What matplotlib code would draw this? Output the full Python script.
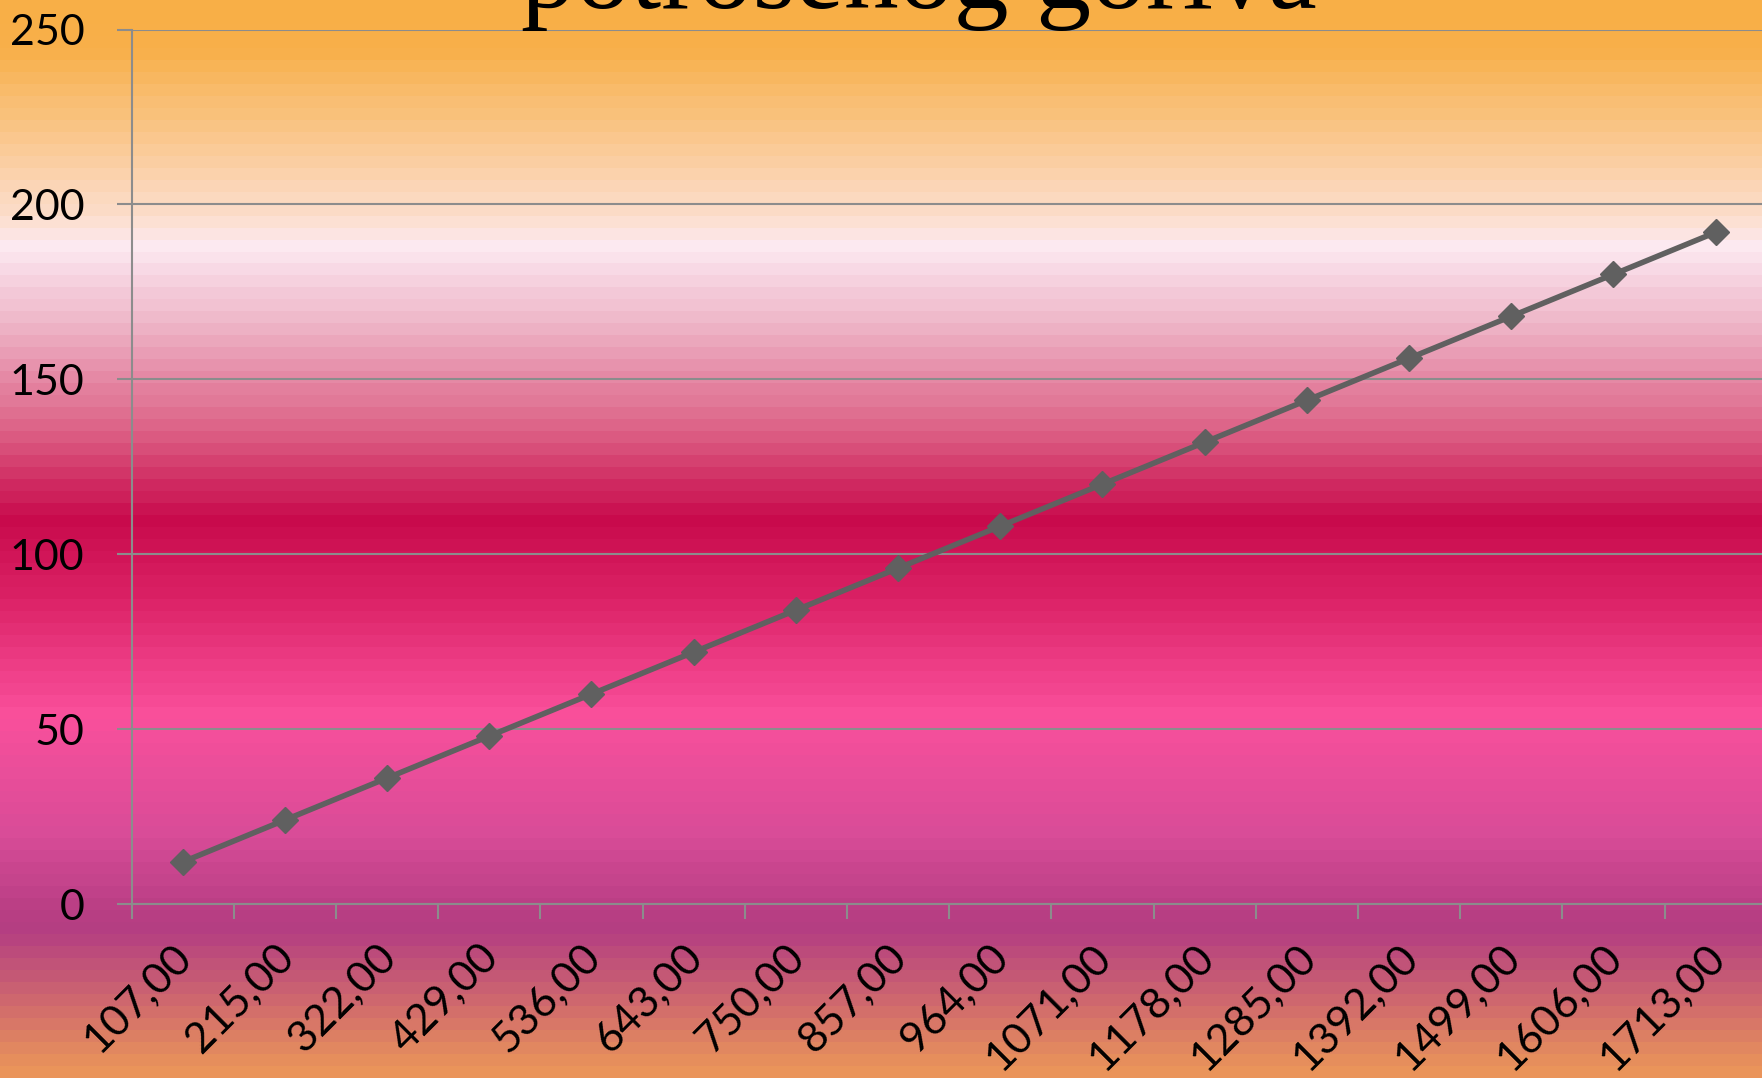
import numpy as np
import matplotlib
matplotlib.use("Agg")
import matplotlib.pyplot as plt
import matplotlib.transforms as mtransforms
from matplotlib.colors import LinearSegmentedColormap

# data
categories = ["107,00", "215,00", "322,00", "429,00", "536,00", "643,00", "750,00", "857,00",
              "964,00", "1071,00", "1178,00", "1285,00", "1392,00", "1499,00", "1606,00", "1713,00"]
values = [12, 24, 36, 48, 60, 72, 84, 96, 108, 120, 132, 144, 156, 168, 180, 192]
title_text = "potrošenog goriva"

# background gradient stops (fraction from top, colour)
grad_stops = [(0.00, "#F8AF47"), (0.04, "#F8B04A"), (0.19, "#FCDCC8"), (0.225, "#FDEAF2"),
              (0.30, "#EEB3C6"), (0.40, "#DC5F84"), (0.48, "#C80A4C"), (0.55, "#DA2064"),
              (0.665, "#FA509C"), (0.78, "#D84C98"), (0.85, "#B83E84"), (0.87, "#B43E82"),
              (1.00, "#EA945A")]

W, H = 1762, 1078
fig = plt.figure(figsize=(W / 100, H / 100), dpi=100)

# banded gradient behind everything
cmap = LinearSegmentedColormap.from_list("bg", grad_stops)
bands = 90
bg = fig.add_axes([0, 0, 1, 1], zorder=-5)
bg.imshow(np.linspace(0, 1, bands).reshape(-1, 1), cmap=cmap, aspect="auto",
          interpolation="nearest", extent=[0, 1, 0, 1], origin="upper")
bg.axis("off")

left = 131.5 / W
bottom = (H - 904) / H
height = (904 - 29.5) / H
width = 16 * 102.2 / W
ax = fig.add_axes([left, bottom, width, height])
ax.set_facecolor("none")

x = np.arange(len(categories))
ax.plot(x, values, color="#606060", lw=4, marker="D", markersize=13, zorder=3)

ax.set_xlim(-0.5, len(categories) - 0.5)
ax.set_ylim(0, 250)
ax.set_yticks(range(0, 251, 50))
ax.yaxis.grid(True, color="#8C8C8C", lw=1.5)
ax.set_axisbelow(True)

ax.set_xticks(x)
ax.set_xticks(np.arange(-0.5, len(categories), 1), minor=True)
ax.tick_params(axis="x", which="major", length=0, pad=24)
ax.tick_params(axis="x", which="minor", length=11, width=1.5, color="#8C8C8C")
ax.tick_params(axis="y", length=11, width=1.5, color="#8C8C8C", pad=23, labelsize=31)
ax.set_xticklabels(categories, rotation=45, ha="right", va="top", rotation_mode="anchor",
                   fontsize=31, family="Lato")
for lab in ax.get_yticklabels():
    lab.set_family("Lato")

# nudge the rotated labels a bit to the left (after tick_params, which resets transforms)
shift = mtransforms.ScaledTranslation(-11 / 100, 0, fig.dpi_scale_trans)
for lab in ax.get_xticklabels():
    lab.set_transform(lab.get_transform() + shift)

for s in ["top", "right"]:
    ax.spines[s].set_visible(False)
for s in ["left", "bottom"]:
    ax.spines[s].set_color("#8C8C8C")
    ax.spines[s].set_linewidth(1.5)

fig.text(919 / W, 1 - 8 / H, title_text, ha="center", va="baseline", fontsize=79,
         family="Liberation Serif")

fig.savefig("out.png", dpi=100)
